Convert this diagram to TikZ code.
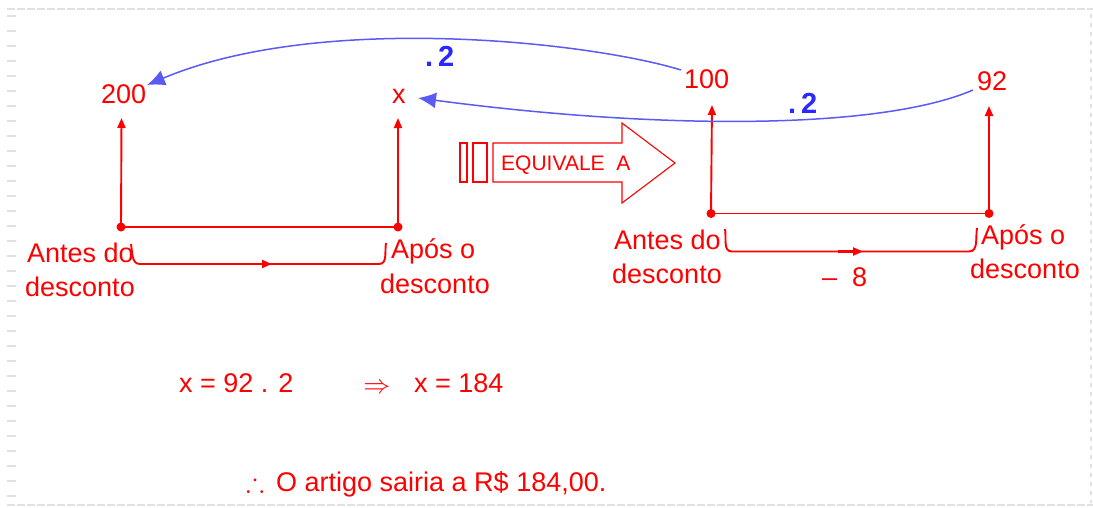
\documentclass[tikz,border=0pt]{standalone}
\usepackage{fontspec}
\usepackage{amssymb}
\setmainfont{Liberation Sans}
\usetikzlibrary{arrows.meta}
\definecolor{myred}{RGB}{255,0,0}
\definecolor{myblue}{RGB}{40,40,255}
\definecolor{lineblue}{RGB}{90,90,245}
\definecolor{framegray}{RGB}{225,225,225}
\begin{document}
\begin{tikzpicture}[x=1pt,y=-1pt,
  txt/.style={inner sep=0pt, anchor=base west, text=myred, font=\fontsize{27}{32}\selectfont},
  bluetxt/.style={inner sep=0pt, anchor=base west, text=myblue, font=\fontsize{29}{32}\selectfont\bfseries},
  dot/.style={circle, fill=myred, inner sep=0pt, minimum size=9pt},
  redline/.style={draw=myred, line width=1.9pt},
  redarrow/.style={redline, -{Triangle[length=10pt,width=8pt]}},
  bluearrow/.style={draw=lineblue, line width=1.5pt, -{Latex[length=18pt,width=16pt]}},
  blockarrow/.style={draw=myred, line width=1.1pt},
  frameline/.style={draw=framegray, line width=1.6pt}
]
\useasboundingbox (0,0) rectangle (1093,507);
% frame
\draw[frameline, dash pattern=on 8pt off 2pt] (7,9) -- (1093,9);
\draw[frameline, dash pattern=on 8pt off 2pt] (7,505) -- (1093,505);
\foreach \yy in {16,31,...,496} {\draw[frameline] (7,\yy) -- (16,\yy);}
\draw[frameline, dash pattern=on 4pt off 5pt] (1091,14) -- (1091,503);

% top numbers
\node[txt] (n200) at (101,103) {200};
\node[txt] (nx) at (392,103) {x};
\node[txt] (n100) at (684,88.5) {100};
\node[txt] (n92) at (977,90) {92};
\node[bluetxt] (m1) at (425,66) {.\,2};
\node[bluetxt] (m2) at (788,113) {.\,2};

% left structure
\node[dot] (dA) at (121,227) {};
\node[dot] (dB) at (398,227) {};
\coordinate (tA) at (121.5,118);
\coordinate (tB) at (398,118);
\draw[redarrow] (dA.center) -- (tA);
\draw[redarrow] (dB.center) -- (tB);
\draw[redline] (dA.center) -- (dB.center);
\coordinate (bA1) at (131,244);
\coordinate (bA2) at (140,264);
\coordinate (bA3) at (379,264);
\coordinate (bA4) at (386,243);
\draw[redline] (bA1) to[out=-80,in=180] (bA2) -- (bA3) to[out=0,in=-100] (bA4);
\coordinate (aA1) at (247,264);
\coordinate (aA2) at (272,264);
\draw[redarrow, line width=2.2pt] (aA1) -- (aA2);
\node[txt] (antesL) at (27,262.5) {Antes do};
\node[txt] (descL) at (25,296.5) {desconto};
\node[txt] (aposL) at (391,258) {Após o};
\node[txt] (descL2) at (380,293) {desconto};

% right structure
\node[dot] (dC) at (711,213.5) {};
\node[dot] (dD) at (989,213.5) {};
\coordinate (tC) at (712,105);
\coordinate (tD) at (989,106);
\draw[redarrow] (dC.center) -- (tC);
\draw[redarrow] (dD.center) -- (tD);
\draw[redline] (dC.center) -- (dD.center);
\coordinate (bC1) at (725,229);
\coordinate (bC2) at (732,251.5);
\coordinate (bC3) at (969,251.5);
\coordinate (bC4) at (977,228);
\draw[redline] (bC1) to[out=-80,in=180] (bC2) -- (bC3) to[out=0,in=-100] (bC4);
\coordinate (aC1) at (838,251.5);
\coordinate (aC2) at (863,251.5);
\draw[redarrow, line width=2.2pt] (aC1) -- (aC2);
\node[txt] (antesR) at (614,249) {Antes do};
\node[txt] (descR) at (612,283.5) {desconto};
\node[txt] (aposR) at (981,244.7) {Após o};
\node[txt] (descR2) at (970,278) {desconto};
\node[txt] (menos8) at (822,286) {–\ \ 8};

% block arrow
\draw[blockarrow] (460,143) rectangle (467,182);
\draw[blockarrow] (473,143) rectangle (487,182);
\draw[blockarrow] (493,143) -- (622,143) -- (622,123) -- (675,163) -- (622,203) -- (622,182) -- (493,182) -- cycle;
\node[txt, font=\fontsize{21}{24}\selectfont] (equiv) at (501,170) {EQUIVALE\ \ A};

% blue curved arrows
\coordinate (s100) at (681,70);
\coordinate (e200) at (147,85);
\coordinate (s92) at (973,90);
\coordinate (ex) at (418,98);
\draw[bluearrow] (s100) .. controls (590,42) and (320,12) .. (e200);
\draw[bluearrow] (s92) .. controls (880,130) and (660,130) .. (ex);

% equations
\node[txt, font=\fontsize{20}{24}\selectfont, scale=1.3] (impl) at (363,393) {$\Rightarrow$};
\node[txt] (eq1) at (179,392.7) {x = 92 . 2};
\node[txt] (eq2) at (414,392.7) {x = 184};
\node[txt, font=\fontsize{27}{30}\selectfont] (there) at (246,491.7) {$\therefore$};
\node[txt] (concl) at (276,491.7) {O artigo sairia a R\$ 184,00.};
\end{tikzpicture}
\end{document}
